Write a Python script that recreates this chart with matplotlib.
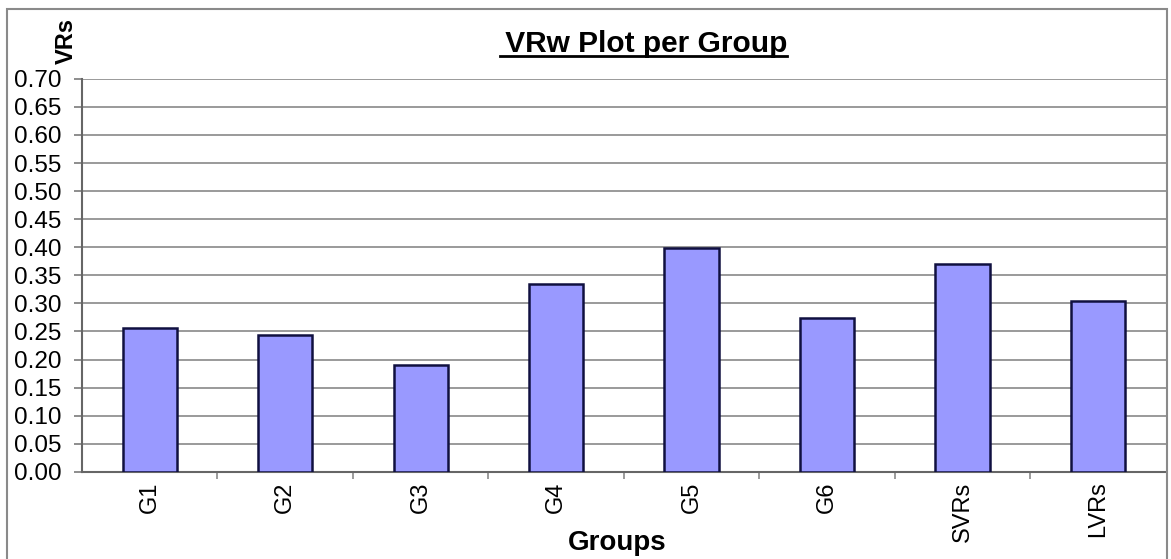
import matplotlib.pyplot as plt
from matplotlib.patches import Rectangle
from matplotlib.ticker import MultipleLocator, FixedLocator

plt.rcParams['font.family'] = ['Liberation Sans', 'DejaVu Sans']

groups = ["G1", "G2", "G3", "G4", "G5", "G6", "SVRs", "LVRs"]
vrw = [0.257, 0.243, 0.191, 0.334, 0.398, 0.274, 0.370, 0.305]

fig = plt.figure(figsize=(11.71, 5.59), dpi=100)
ax = fig.add_axes([0.070, 0.156, 0.9255, 0.703])

# outer chart frame
fig.patches.append(Rectangle((0.006, -0.02), 0.991, 1.004, transform=fig.transFigure,
                             fill=False, edgecolor="#8a8a8a", linewidth=1.5))

x = range(len(groups))
ax.bar(x, vrw, width=0.40, color="#9999ff", edgecolor="#101040", linewidth=1.8, zorder=3)

ax.set_xlim(-0.5, len(groups) - 0.5)
ax.set_ylim(0, 0.70)
ax.yaxis.set_major_locator(MultipleLocator(0.05))
ax.yaxis.set_major_formatter(plt.FuncFormatter(lambda v, p: f"{v:.2f}"))
ax.grid(axis="y", color="#9a9a9a", linewidth=1.4, zorder=0)

ax.set_xticks(list(x))
ax.set_xticklabels(groups, rotation=90, fontsize=17)
ax.tick_params(axis="x", which="major", length=0, pad=7)
ax.xaxis.set_minor_locator(FixedLocator([i + 0.5 for i in range(len(groups) - 1)]))
ax.tick_params(axis="x", which="minor", length=5, width=1.2, color="#8a8a8a")
ax.tick_params(axis="y", length=6, width=1.2, color="#7a7a7a", labelsize=17.5, pad=9)

for s in ["top", "right"]:
    ax.spines[s].set_visible(False)
ax.spines["left"].set_color("#666666")
ax.spines["bottom"].set_color("#666666")
ax.spines["left"].set_linewidth(1.5)
ax.spines["bottom"].set_linewidth(1.5)

fig.text(0.527, 0.028, "Groups", fontsize=20, fontweight="bold", ha="center", va="center")
fig.text(0.057, 0.926, "VRs", rotation=90, fontsize=17, fontweight="bold",
         ha="center", va="center")

t = fig.text(0.548, 0.922, " VRw Plot per Group", fontsize=21.5, fontweight="bold",
             ha="center", va="center")
fig.canvas.draw()
bb = t.get_window_extent().transformed(fig.transFigure.inverted())
fig.add_artist(plt.Line2D([bb.x0 + 0.003, bb.x1], [bb.y0 + 0.003, bb.y0 + 0.003],
                          transform=fig.transFigure, color="black", linewidth=2))

fig.savefig("out.png", dpi=100)
